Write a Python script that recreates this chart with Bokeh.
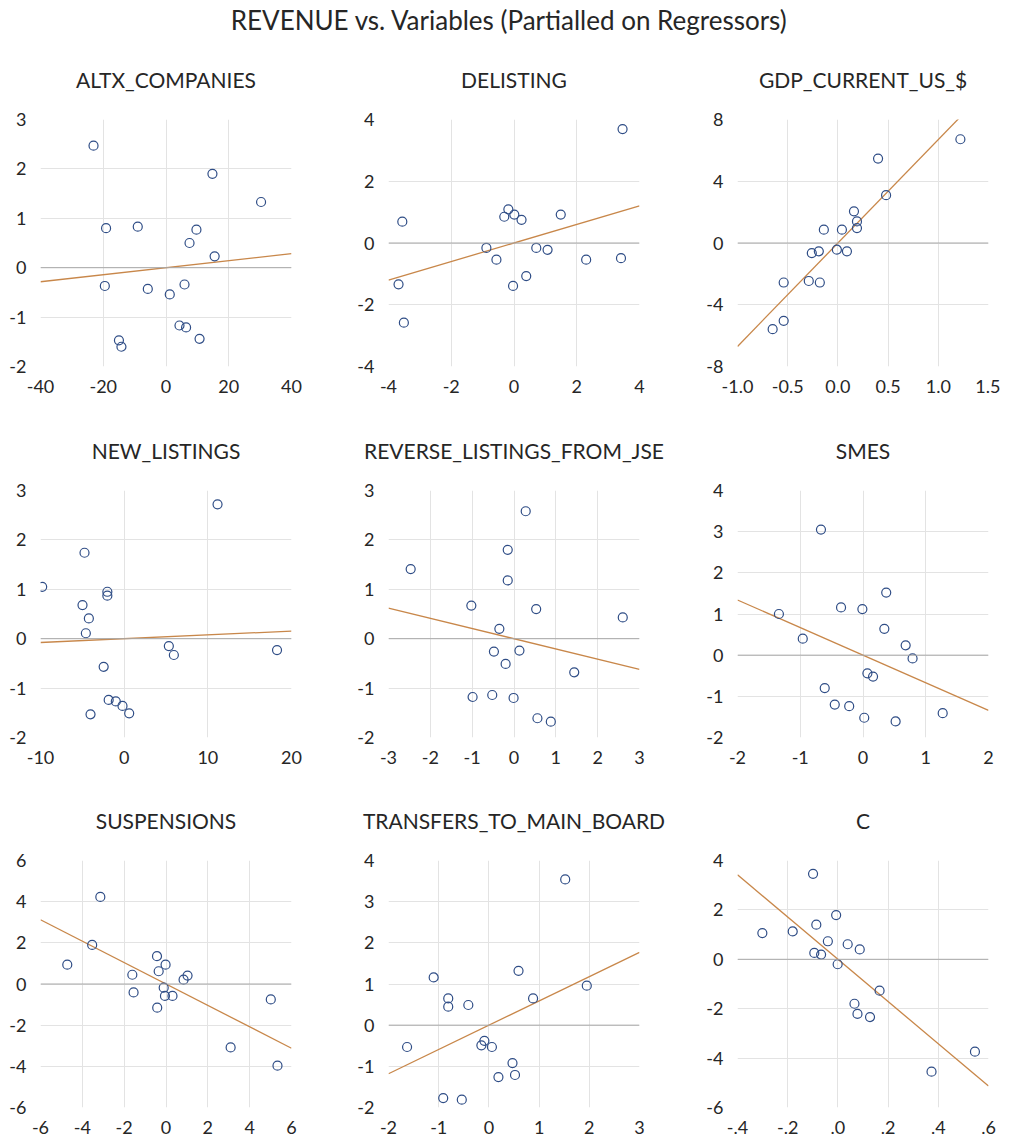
from bokeh.plotting import figure
from bokeh.layouts import column, row
from bokeh.models import Range1d, FixedTicker, Span
from bokeh.embed import file_html
from bokeh.resources import INLINE
from bokeh.core.properties import value

main_title = "REVENUE vs. Variables (Partialled on Regressors)"

# ---------------- data ----------------
altx_x = [-23.1, 14.8, 30.3, -19.1, -9.0, 9.7, 7.5, 15.5, -19.5, -5.8, 1.2, 5.9, 4.3, 6.4, 10.7, -15.0, -14.2]
altx_y = [2.47, 1.90, 1.33, 0.80, 0.83, 0.77, 0.50, 0.23, -0.37, -0.43, -0.54, -0.34, -1.17, -1.21, -1.44, -1.47, -1.60]
altx_slope = 0.0071

delisting_x = [3.46, -3.56, -3.68, -3.51, -0.88, -0.56, -0.18, -0.31, 0.01, 0.24, -0.03, 0.39, 0.71, 1.07, 1.49, 2.30, 3.41]
delisting_y = [3.69, 0.69, -1.34, -2.58, -0.16, -0.54, 1.09, 0.85, 0.92, 0.75, -1.39, -1.07, -0.16, -0.22, 0.92, -0.54, -0.49]
delisting_slope = 0.30

gdp_x = [1.22, 0.40, 0.48, 0.16, 0.19, 0.19, -0.14, 0.04, -0.01, 0.09, -0.26, -0.19, -0.54, -0.29, -0.18, -0.54, -0.65]
gdp_y = [6.72, 5.47, 3.10, 2.05, 1.40, 0.97, 0.86, 0.86, -0.43, -0.54, -0.65, -0.54, -2.56, -2.46, -2.56, -5.04, -5.58]
gdp_slope = 6.7

newlist_x = [11.16, -4.74, -9.80, -2.01, -2.01, -4.98, -4.22, -4.58, 5.34, 5.94, 18.27, -2.45, -1.85, -1.00, -0.20, 0.60, -4.02]
newlist_y = [2.72, 1.74, 1.05, 0.95, 0.87, 0.68, 0.41, 0.11, -0.15, -0.33, -0.23, -0.57, -1.24, -1.27, -1.36, -1.51, -1.53]
newlist_slope = 0.0077

reverse_x = [0.28, -0.15, -2.47, -0.15, -1.02, 0.53, 2.60, -0.35, -0.48, 0.13, -0.20, 1.44, -0.99, -0.52, -0.01, 0.56, 0.88]
reverse_y = [2.58, 1.80, 1.41, 1.18, 0.67, 0.60, 0.43, 0.20, -0.26, -0.24, -0.51, -0.68, -1.18, -1.14, -1.20, -1.61, -1.68]
reverse_slope = -0.207

smes_x = [-0.67, 0.37, -0.35, -0.01, -1.34, 0.34, -0.96, 0.68, 0.79, 0.07, 0.16, -0.61, -0.45, -0.22, 0.02, 0.52, 1.27]
smes_y = [3.05, 1.52, 1.16, 1.12, 1.00, 0.64, 0.40, 0.24, -0.08, -0.44, -0.52, -0.80, -1.20, -1.24, -1.52, -1.61, -1.41]
smes_slope = -0.67

susp_x = [-3.14, -3.53, -4.72, -0.43, -0.02, -0.35, -1.61, 1.03, 0.84, -0.11, -1.55, -0.05, 0.31, -0.42, 5.01, 3.09, 5.33]
susp_y = [4.23, 1.90, 0.94, 1.35, 0.94, 0.62, 0.45, 0.41, 0.21, -0.18, -0.41, -0.58, -0.58, -1.15, -0.75, -3.08, -3.97]
susp_slope = -0.52

transfers_x = [1.52, 0.59, -1.10, 1.95, 0.88, -0.81, -0.81, -0.41, -1.63, -0.09, -0.15, 0.06, 0.47, 0.52, 0.19, -0.91, -0.54]
transfers_y = [3.54, 1.32, 1.16, 0.96, 0.65, 0.65, 0.45, 0.49, -0.53, -0.38, -0.49, -0.53, -0.92, -1.21, -1.26, -1.77, -1.81]
transfers_slope = 0.59

c_x = [-0.099, -0.007, -0.086, -0.180, -0.301, -0.040, 0.039, 0.087, -0.094, -0.067, -0.001, 0.166, 0.066, 0.078, 0.128, 0.546, 0.373]
c_y = [3.46, 1.79, 1.40, 1.13, 1.06, 0.73, 0.61, 0.40, 0.26, 0.19, -0.20, -1.27, -1.80, -2.21, -2.34, -3.74, -4.55]
c_slope = -8.55

# ---------------- axis ticks and tick labels ----------------
altx_xticks = [-40, -20, 0, 20, 40]
altx_xlabels = ["-40", "-20", "0", "20", "40"]
altx_yticks = [-2, -1, 0, 1, 2, 3]
altx_ylabels = ["-2", "-1", "0", "1", "2", "3"]

delisting_xticks = [-4, -2, 0, 2, 4]
delisting_xlabels = ["-4", "-2", "0", "2", "4"]
delisting_yticks = [-4, -2, 0, 2, 4]
delisting_ylabels = ["-4", "-2", "0", "2", "4"]

gdp_xticks = [-1.0, -0.5, 0.0, 0.5, 1.0, 1.5]
gdp_xlabels = ["-1.0", "-0.5", "0.0", "0.5", "1.0", "1.5"]
gdp_yticks = [-8, -4, 0, 4, 8]
gdp_ylabels = ["-8", "-4", "0", "4", "8"]

newlist_xticks = [-10, 0, 10, 20]
newlist_xlabels = ["-10", "0", "10", "20"]
newlist_yticks = [-2, -1, 0, 1, 2, 3]
newlist_ylabels = ["-2", "-1", "0", "1", "2", "3"]

reverse_xticks = [-3, -2, -1, 0, 1, 2, 3]
reverse_xlabels = ["-3", "-2", "-1", "0", "1", "2", "3"]
reverse_yticks = [-2, -1, 0, 1, 2, 3]
reverse_ylabels = ["-2", "-1", "0", "1", "2", "3"]

smes_xticks = [-2, -1, 0, 1, 2]
smes_xlabels = ["-2", "-1", "0", "1", "2"]
smes_yticks = [-2, -1, 0, 1, 2, 3, 4]
smes_ylabels = ["-2", "-1", "0", "1", "2", "3", "4"]

susp_xticks = [-6, -4, -2, 0, 2, 4, 6]
susp_xlabels = ["-6", "-4", "-2", "0", "2", "4", "6"]
susp_yticks = [-6, -4, -2, 0, 2, 4, 6]
susp_ylabels = ["-6", "-4", "-2", "0", "2", "4", "6"]

transfers_xticks = [-2, -1, 0, 1, 2, 3]
transfers_xlabels = ["-2", "-1", "0", "1", "2", "3"]
transfers_yticks = [-2, -1, 0, 1, 2, 3, 4]
transfers_ylabels = ["-2", "-1", "0", "1", "2", "3", "4"]

c_xticks = [-0.4, -0.2, 0.0, 0.2, 0.4, 0.6]
c_xlabels = ["-.4", "-.2", ".0", ".2", ".4", ".6"]
c_yticks = [-6, -4, -2, 0, 2, 4]
c_ylabels = ["-6", "-4", "-2", "0", "2", "4"]

# ---------------- styling ----------------
FONT = "Lato"
TEXT_COLOR = "#262626"
POINT_COLOR = "#2f4d86"
LINE_COLOR = "#c8874a"
GRID_COLOR = "#e3e3e3"
ZERO_COLOR = "#a8a8a8"

FRAME_W = 251
FRAME_H = 247


def make_panel(name, xs, ys, slope, xt, xl, yt, yl, top, bottom, right):
    p = figure(frame_width=FRAME_W, frame_height=FRAME_H,
               min_border_left=40, min_border_right=right,
               min_border_top=top, min_border_bottom=bottom,
               x_range=Range1d(xt[0], xt[-1]), y_range=Range1d(yt[0], yt[-1]),
               output_backend="svg", toolbar_location=None, title=name)
    p.outline_line_color = None
    p.background_fill_color = "white"
    p.border_fill_color = "white"
    p.title.align = "center"
    p.title.text_font = FONT
    p.title.text_font_size = "21px"
    p.title.text_font_style = "normal"
    p.title.text_color = TEXT_COLOR
    p.title.standoff = 56

    xa = p.below[0]
    ya = p.left[0]
    for ax in (xa, ya):
        ax.axis_line_color = None
        ax.major_tick_line_color = None
        ax.minor_tick_line_color = None
        ax.major_label_text_font = FONT
        ax.major_label_text_font_size = "18px"
        ax.major_label_text_color = TEXT_COLOR
    xa.ticker = FixedTicker(ticks=xt)
    xa.major_label_overrides = {v: l for v, l in zip(xt, xl)}
    xa.major_label_standoff = 7
    ya.ticker = FixedTicker(ticks=yt)
    ya.major_label_overrides = {v: l for v, l in zip(yt, yl)}
    ya.major_label_standoff = 8

    p.xgrid.ticker = FixedTicker(ticks=xt[1:-1])
    p.ygrid.ticker = FixedTicker(ticks=yt[1:-1])
    p.grid.grid_line_color = GRID_COLOR
    p.grid.grid_line_width = 1

    p.add_layout(Span(location=0, dimension="width", line_color=ZERO_COLOR, line_width=1))

    x0, x1 = xt[0], xt[-1]
    p.line([x0, x1], [slope * x0, slope * x1], line_color=LINE_COLOR, line_width=1.3)
    p.scatter(xs, ys, marker="circle", size=9, fill_color=None,
              line_color=POINT_COLOR, line_width=1.2)
    return p


TITLE_H = 35
title_fig = figure(width=1000, height=TITLE_H, x_range=Range1d(0, 1000), y_range=Range1d(0, TITLE_H),
                   output_backend="svg", toolbar_location=None, min_border=0)
title_fig.axis.visible = False
title_fig.grid.visible = False
title_fig.outline_line_color = None
title_fig.text(x=[509], y=[TITLE_H - 19], text=[main_title], text_align="center", text_baseline="middle",
               text_font=value(FONT), text_font_size="26px", text_color=TEXT_COLOR)

R1, R2, R3 = 57, 58, 12
TOP = 84
p1 = make_panel("ALTX_COMPANIES", altx_x, altx_y, altx_slope, altx_xticks, altx_xlabels, altx_yticks, altx_ylabels, TOP, 40, R1)
p2 = make_panel("DELISTING", delisting_x, delisting_y, delisting_slope, delisting_xticks, delisting_xlabels, delisting_yticks, delisting_ylabels, TOP, 40, R2)
p3 = make_panel("GDP_CURRENT_US_$", gdp_x, gdp_y, gdp_slope, gdp_xticks, gdp_xlabels, gdp_yticks, gdp_ylabels, TOP, 40, R3)
p4 = make_panel("NEW_LISTINGS", newlist_x, newlist_y, newlist_slope, newlist_xticks, newlist_xlabels, newlist_yticks, newlist_ylabels, TOP, 39, R1)
p5 = make_panel("REVERSE_LISTINGS_FROM_JSE", reverse_x, reverse_y, reverse_slope, reverse_xticks, reverse_xlabels, reverse_yticks, reverse_ylabels, TOP, 39, R2)
p6 = make_panel("SMES", smes_x, smes_y, smes_slope, smes_xticks, smes_xlabels, smes_yticks, smes_ylabels, TOP, 39, R3)
p7 = make_panel("SUSPENSIONS", susp_x, susp_y, susp_slope, susp_xticks, susp_xlabels, susp_yticks, susp_ylabels, TOP, 30, R1)
p8 = make_panel("TRANSFERS_TO_MAIN_BOARD", transfers_x, transfers_y, transfers_slope, transfers_xticks, transfers_xlabels, transfers_yticks, transfers_ylabels, TOP, 30, R2)
p9 = make_panel("C", c_x, c_y, c_slope, c_xticks, c_xlabels, c_yticks, c_ylabels, TOP, 30, R3)

layout = column(title_fig, row(p1, p2, p3), row(p4, p5, p6), row(p7, p8, p9))

open("out.html", "w").write(file_html(layout, INLINE))
